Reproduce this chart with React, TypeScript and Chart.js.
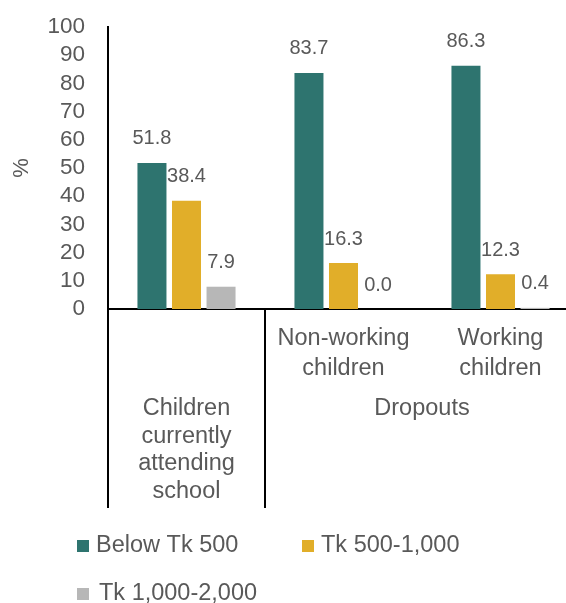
import React, { useEffect, useRef } from 'react';
import { Chart, registerables } from 'chart.js';

Chart.register(...registerables);

// ---- data ----
const categories: string[][] = [[''], ['Non-working', 'children'], ['Working', 'children']];
const groupLabels: string[][] = [['Children', 'currently', 'attending', 'school'], ['Dropouts']];
const groupSpans: number[][] = [[0, 0], [1, 2]];
const seriesNames = ['Below Tk 500', 'Tk 500-1,000', 'Tk 1,000-2,000'];
const belowTk500 = [51.8, 83.7, 86.3];
const tk500to1000 = [38.4, 16.3, 12.3];
const tk1000to2000 = [7.9, 0.0, 0.4];
const seriesColors = ['#2E746F', '#E1AE29', '#B7B7B7'];
const yMin = 0;
const yMax = 100;
const yStep = 10;
const yTitle = '%';

const FONT = "'Liberation Sans', Arial, sans-serif";
const TEXT = '#595959';

const extras = {
  id: 'extras',
  afterDraw(chart: any) {
    const { ctx, chartArea } = chart;
    const xs = chart.scales.x;
    ctx.save();
    // data labels
    ctx.fillStyle = TEXT;
    ctx.font = `20px ${FONT}`;
    ctx.textAlign = 'center';
    ctx.textBaseline = 'middle';
    chart.data.datasets.forEach((ds: any, di: number) => {
      const meta = chart.getDatasetMeta(di);
      meta.data.forEach((el: any, i: number) => {
        ctx.fillText(Number(ds.data[i]).toFixed(1), el.x, el.y - 24);
      });
    });
    // group dividers
    const bottom = chartArea.bottom;
    const lineEnd = bottom + 199;
    ctx.strokeStyle = '#000';
    ctx.lineWidth = 2;
    const half = (xs.getPixelForValue(1) - xs.getPixelForValue(0)) / 2;
    groupSpans.forEach((span) => {
      const x0 = xs.getPixelForValue(span[0]) - half;
      ctx.beginPath();
      ctx.moveTo(x0, bottom);
      ctx.lineTo(x0, lineEnd);
      ctx.stroke();
    });
    // group labels
    ctx.font = `23.5px ${FONT}`;
    groupLabels.forEach((lines, gi) => {
      const span = groupSpans[gi];
      const cx = (xs.getPixelForValue(span[0]) + xs.getPixelForValue(span[1])) / 2;
      lines.forEach((ln, li) => {
        ctx.fillText(ln, cx, bottom + 100 + li * 27.5);
      });
    });
    // legend
    const items = [
      { sx: 77, tx: 96, y: 546 },
      { sx: 302, tx: 321, y: 546 },
      { sx: 77, tx: 99, y: 594 },
    ];
    ctx.textAlign = 'left';
    ctx.font = `23.5px ${FONT}`;
    seriesNames.forEach((name, i) => {
      const it = items[i];
      ctx.fillStyle = seriesColors[i];
      ctx.fillRect(it.sx, it.y - 6, 12, 12);
      ctx.fillStyle = TEXT;
      ctx.fillText(name, it.tx, it.y);
    });
    ctx.restore();
  },
};

export default function App() {
  const ref = useRef<HTMLCanvasElement | null>(null);
  useEffect(() => {
    if (!ref.current) return;
    const chart = new Chart(ref.current, {
      type: 'bar',
      data: {
        labels: categories as any,
        datasets: [belowTk500, tk500to1000, tk1000to2000].map((d, i) => ({
          label: seriesNames[i],
          data: d,
          backgroundColor: seriesColors[i],
          categoryPercentage: 0.66,
          barPercentage: 0.84,
        })),
      },
      options: {
        animation: false,
        responsive: false,
        devicePixelRatio: 1,
        layout: { padding: { top: 27, right: 1, left: 0, bottom: 0 } },
        plugins: { legend: { display: false }, tooltip: { enabled: false } },
        scales: {
          x: {
            grid: { display: false, drawTicks: false },
            border: { display: true, color: '#000', width: 2 },
            ticks: {
              color: TEXT,
              font: { family: FONT, size: 23.5, lineHeight: 1.28 },
              padding: 14,
              maxRotation: 0,
              autoSkip: false,
            },
            afterFit: (s: any) => { s.height = 294; },
          },
          y: {
            min: yMin,
            max: yMax,
            grid: { display: false, drawTicks: false },
            border: { display: true, color: '#000', width: 2 },
            ticks: {
              stepSize: yStep,
              autoSkip: false,
              color: TEXT,
              font: { family: FONT, size: 22.5 },
              padding: 23,
            },
            title: {
              display: true,
              text: yTitle,
              color: TEXT,
              font: { family: FONT, size: 22 },
              padding: { top: 9, bottom: 0 },
            },
            afterFit: (s: any) => {
              s.width = 108;
              s.paddingTop = 12;
              s.paddingBottom = 12;
            },
          },
        },
      },
      plugins: [extras],
    });
    return () => chart.destroy();
  }, []);
  return (
    <div style={{ position: 'fixed', left: 0, top: 0, width: 566, height: 603, overflow: 'hidden', background: '#fff' }}>
      <canvas ref={ref} width={580} height={603} style={{ display: 'block', width: 580, height: 603 }} />
    </div>
  );
}
